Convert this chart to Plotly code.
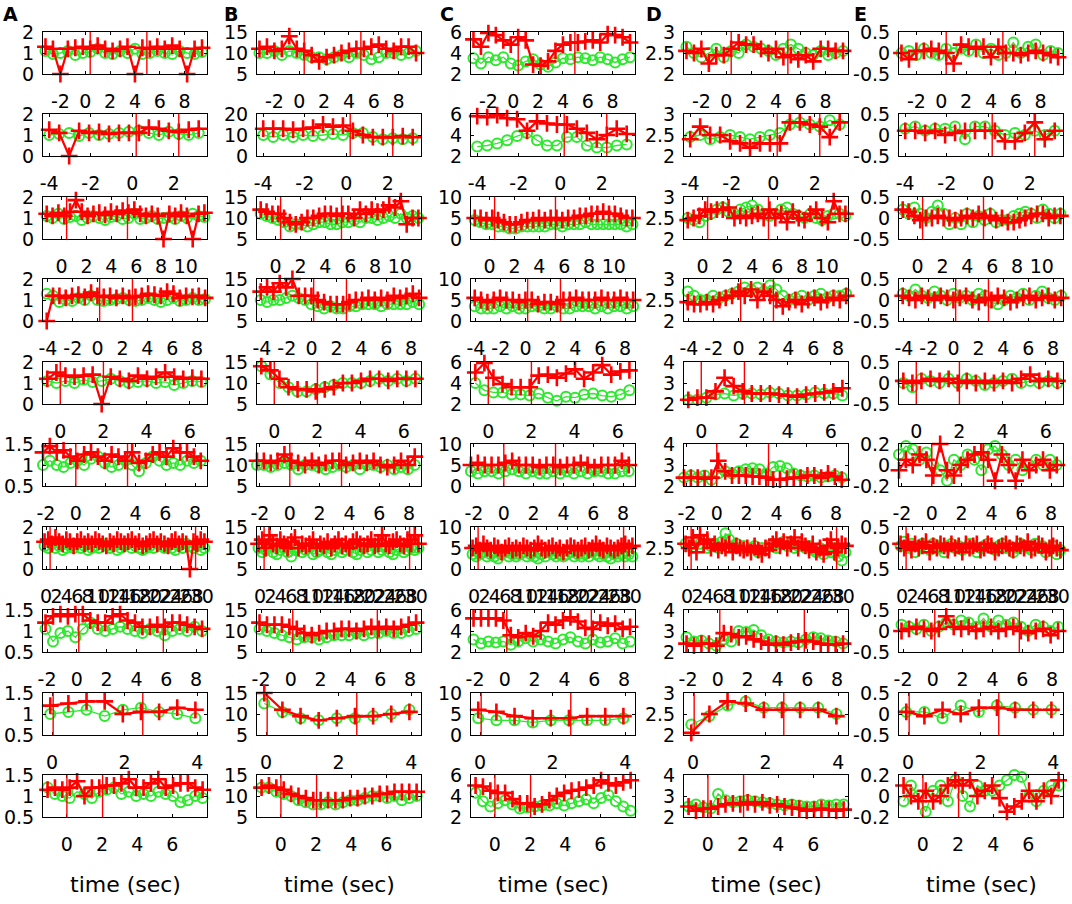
import plotly.graph_objects as go

W, H = 1072, 904
columns = ["A", "B", "C", "D", "E"]

# ---- per-row time sampling / axes (rows 1..10) ----
row_t0 = [-3.2, -4.0, -1.2, -4.1, -0.6, -2.2, -0.3, -2.1, -0.05, -1.1]
row_dt = [0.6, 0.48, 0.47, 0.51, 0.42, 0.46, 0.7, 0.5, 0.5, 0.42]
row_xrange = [[-3.4, 9.8], [-4.3, 3.6], [-1.5, 11.7], [-4.4, 8.8], [-0.8, 6.8],
              [-2.2, 8.8], [-0.6, 31.0], [-2.27, 8.73], [-0.25, 4.27], [-1.36, 7.97]]
row_xticks = [[-2, 0, 2, 4, 6, 8], [-4, -2, 0, 2], [0, 2, 4, 6, 8, 10],
              [-4, -2, 0, 2, 4, 6, 8], [0, 2, 4, 6], [-2, 0, 2, 4, 6, 8],
              list(range(0, 31, 2)), [-2, 0, 2, 4, 6, 8], [0, 2, 4], [0, 2, 4, 6]]
row_events = [[0.4, 4.96], [0.19, 2.24], [0.4, 5.3], [0.16, 2.8], [0.0, 2.0],
              [0.0, 3.47], [0.77, 28.8], [0.13, 5.8], [0.03, 2.5], [0.0, 2.03]]

# ---- y ranges per column (rows 1..10) ----
yr_A = [[0, 2]] * 5 + [[0.5, 1.5], [0, 2], [0.5, 1.5], [0.5, 1.5], [0.5, 1.5]]
yr_B = [[5, 15], [0, 20]] + [[5, 15]] * 8
yr_C = [[2, 6], [2, 6], [0, 10], [0, 10], [2, 6], [0, 10], [0, 10], [2, 6], [0, 10], [2, 6]]
yr_D = [[2, 3]] * 4 + [[2, 4], [2, 4], [2, 3], [2, 4], [2, 3], [2, 4]]
yr_E = [[-0.5, 0.5]] * 5 + [[-0.2, 0.2]] + [[-0.5, 0.5]] * 3 + [[-0.2, 0.2]]

# ---- series values (red "+" and green "o") ----
red_A = [
    [1.3, 1.2, 0, 1.2, 1.25, 1.3, 1.2, 1.35, 1.2, 1.1, 1.2, 1.3, 0, 1.25, 1.2, 1.3, 1.2, 1.35, 1.2, 0, 1.2, 1.25],
    [1.25, 1.1, 0, 1.2, 1.1, 1.15, 1.05, 1.1, 1.1, 1.1, 1.35, 1.3, 1.2, 1.15, 1.25, 1.3],
    [1.2, 1.1, 1.25, 1.1, 1.3, 1.85, 1.3, 1.1, 1.2, 1.25, 1.15, 1.3, 1.2, 1.35, 1.25, 1.4, 1.2, 1.1, 1.2, 1.1, 0, 1.2, 1.1, 1.25, 1.1, 0, 1.2, 1.25],
    [0, 1.2, 1.2, 1.1, 1.2, 1.25, 1.15, 1.35, 1.2, 1.15, 1.2, 1.1, 1.2, 1.1, 1.15, 1.2, 1.3, 1.25, 1.2, 1.4, 1.3, 1.1, 1.2, 1.15, 1.2, 1.1],
    [1.2, 1.5, 1.35, 1.3, 1.35, 1.4, 0, 1.3, 1.2, 1.1, 1.35, 1.2, 1.3, 1.5, 1.3, 1.2, 1.25, 1.2],
    [1.3, 1.45, 1.3, 1.35, 1.2, 1.1, 1.25, 1.3, 1.2, 1.1, 1.25, 1.2, 1.1, 1.3, 1.05, 1.1, 1.25, 1.3, 1.2, 1.4, 1.3, 1.3, 1.2, 1.1],
    [1.3, 1.4, 1.2, 1.5, 1.3, 1.2, 1.4, 1.3, 1.1, 1.3, 1.4, 1.2, 1.3, 1.2, 1.4, 1.3, 1.2, 1.1, 1.3, 1.2, 1.4, 1.3, 1.2, 1.3, 1.4, 1.2, 1.3, 1.1, 1.2, 1.3, 1.4, 1.2, 1.3, 1.2, 1.1, 1.3, 1.4, 1.2, 1.3, 1.2, 0.0, 1.3, 1.2, 1.4, 1.3],
    [1.2, 1.35, 1.4, 1.35, 1.4, 1.4, 1.25, 1.2, 1.2, 1.35, 1.4, 1.25, 1.2, 1.1, 1.1, 1.15, 1.1, 1.2, 1.2, 1.15, 1.1, 1.05],
    [1.2, 1.25, 1.3, 1.3, 1.0, 1.05, 1.05, 1.15, 1.1],
    [1.15, 1.2, 1.15, 1.2, 1.35, 1.0, 1.2, 1.2, 1.25, 1.25, 1.3, 1.4, 1.2, 1.2, 1.3, 1.4, 1.2, 1.25, 1.3, 1.3, 1.2, 1.15],
]
green_A = [
    [1.1, 0.95, 1.0, 1.1, 0.9, 1.0, 1.05, 1.2, 1.0, 0.95, 1.1, 1.0, 1.2, 0.95, 1.0, 1.1, 1.0, 0.95, 1.1, 1.0, 0.95, 1.05],
    [1.0, 1.05, 1.1, 0.95, 1.1, 1.0, 1.05, 1.1, 1.15, 1.2, 1.1, 1.0, 1.15, 1.05, 1.0, 1.1],
    [1.1, 1.0, 1.2, 0.95, 1.05, 1.1, 0.9, 1.0, 1.1, 1.0, 0.9, 1.05, 1.1, 0.95, 1.0, 1.2, 0.95, 1.0, 1.1, 0.95, 1.0, 1.05, 0.95, 1.1, 1.0, 1.2, 1.1, 1.05],
    [1.3, 1.2, 0.9, 1.0, 0.95, 1.1, 1.0, 1.2, 1.0, 0.95, 1.0, 1.05, 1.1, 1.0, 0.95, 1.0, 1.1, 1.0, 0.9, 1.0, 1.1, 0.95, 1.0, 1.1, 1.0, 1.05],
    [1.1, 1.0, 1.1, 1.0, 1.15, 1.05, 1.1, 1.2, 1.1, 1.0, 1.05, 1.1, 1.0, 1.05, 0.9, 1.0, 1.1, 1.05],
    [1.0, 1.1, 1.0, 0.95, 1.05, 1.1, 1.0, 1.15, 1.2, 1.05, 0.95, 1.0, 1.1, 1.0, 0.85, 1.05, 1.2, 1.1, 1.0, 1.05, 1.0, 1.1, 1.05, 1.1],
    [1.1, 1.0, 1.2, 1.0, 1.1, 0.9, 1.0, 1.1, 1.0, 1.2, 1.0, 1.1, 0.9, 1.0, 1.1, 1.0, 1.2, 1.1, 1.0, 1.1, 0.9, 1.0, 1.1, 1.2, 1.0, 1.1, 1.0, 0.9, 1.0, 1.1, 1.0, 1.2, 1.1, 1.0, 1.1, 1.0, 0.9, 1.1, 1.0, 1.2, 1.1, 1.0, 1.1, 0.9, 1.0],
    [1.05, 0.75, 0.95, 1.0, 0.85, 1.05, 1.2, 1.05, 1.0, 1.05, 1.1, 1.05, 1.0, 0.95, 1.05, 1.0, 0.9, 1.0, 1.05, 1.0, 1.1, 1.0],
    [1.0, 1.05, 1.1, 0.95, 1.1, 1.15, 1.05, 1.0, 0.9],
    [1.2, 1.05, 1.0, 0.95, 1.1, 1.05, 0.95, 1.1, 1.15, 1.2, 1.05, 1.1, 1.0, 1.05, 1.0, 1.1, 1.05, 1.0, 0.85, 0.9, 1.0, 0.95],
]
red_B = [
    [11, 11.5, 10.5, 11, 14, 11, 10.5, 9.5, 8, 9, 9.5, 10, 10.5, 11, 11, 11.5, 12, 11, 10.5, 11.5, 11.5, 10],
    [13, 13, 13, 12.5, 13, 13.5, 15, 14, 14.5, 12, 10, 9, 9, 9, 9.5, 9],
    [12, 11.5, 11, 11, 10, 9, 8.5, 9, 10, 10, 10.5, 11, 11, 10.5, 11, 11, 10, 12, 11, 12, 11.5, 12, 13, 12.5, 14, 8.5, 10, 10],
    [12, 13, 12, 14, 13, 15, 11, 11, 11, 10, 9.5, 9, 9, 9, 9.5, 10, 10, 10.5, 10, 10.5, 10, 11, 10.5, 11, 11.5, 10.5],
    [14, 13, 11, 9, 8.5, 8.5, 8, 8.5, 9, 10, 10, 10.5, 11, 11, 10.5, 11, 11, 11],
    [11, 11, 10.5, 11, 12.5, 11, 10.5, 10, 11, 10, 10.5, 11, 11, 10, 10.5, 11, 10.5, 11, 10, 9.5, 10, 11, 10, 12],
    [11, 12, 10, 13, 11, 10.5, 12, 11, 10, 11.5, 12.5, 10, 11, 10.5, 11, 12, 10, 11, 10.5, 11.5, 10, 11, 12, 10.5, 11, 10, 11.5, 12, 11, 10.5, 11, 12, 10.5, 11, 13, 11, 10.5, 11.5, 12, 11, 10.5, 12, 11, 13, 11],
    [12, 11.5, 11.5, 11.5, 11, 10.5, 9.5, 9, 9.5, 10, 10, 10.5, 10.5, 10, 10.5, 11, 10.5, 11, 10.5, 11, 11.5, 12],
    [15, 11, 9.5, 8.5, 9, 9.5, 9.5, 10, 10.5],
    [12, 12.5, 12, 11.5, 10.5, 10, 9.5, 9, 9, 9, 9, 9, 9.5, 9.5, 10, 10, 10.5, 10.5, 11, 11, 11, 11],
]
green_B = [
    [10, 10, 10.5, 9.5, 10.5, 10, 9.5, 9, 9, 8.5, 9, 9.5, 9, 10, 9.5, 8.5, 9, 10, 10, 9.5, 10, 10.5],
    [10, 9, 10, 9, 10, 9.5, 10, 10.5, 10, 11, 11, 9, 8, 8.5, 8, 8.5],
    [11, 10.5, 10, 9.5, 9, 8, 8.5, 8.5, 8, 8.5, 9, 9, 8.5, 8.5, 9, 9, 9.5, 9, 10, 10, 9.5, 10, 10.5, 10, 11, 10, 10.5, 10],
    [10, 9.5, 10, 10, 10.5, 11, 10.5, 10, 9, 8.5, 8, 8.5, 8, 8, 8.5, 8.5, 9, 9, 9, 8.5, 9, 9, 9, 9, 9.5, 9],
    [14, 12, 10, 9, 8, 8, 8.5, 9, 9.5, 10, 10, 10, 10.5, 11, 10.5, 11, 10.5, 11],
    [10, 10, 9.5, 10, 10.5, 10, 9, 10, 10, 9.5, 9, 9.5, 10, 9.5, 10, 9, 10, 10, 9.5, 10, 9, 9.5, 9, 10],
    [10, 9, 9.5, 10.5, 9, 8.5, 9.5, 10, 9, 8, 9.5, 10, 9, 9.5, 10, 8.5, 9, 9.5, 10, 9, 8.5, 9.5, 10, 9, 9.5, 10, 9, 8.5, 9.5, 10, 9, 9.5, 10.5, 9, 9.5, 10, 9, 8.5, 9.5, 10, 9, 9.5, 10, 9.5, 10],
    [10.5, 10, 9.5, 9, 8.5, 8, 8.5, 8.5, 8, 8.5, 9, 9, 9, 9.5, 9, 9.5, 9.5, 10, 9.5, 9.5, 10, 10.5],
    [12.5, 10.5, 9, 8.5, 9, 9, 9.5, 10, 11],
    [12, 12, 11, 10.5, 10, 9, 8.5, 8, 8, 8.5, 8, 8.5, 9, 9, 9.5, 10, 10, 9.5, 10, 9, 9.5, 10],
]
red_C = [
    [5.3, 4.6, 5.9, 5.7, 5.2, 4.8, 5.5, 5.2, 2.9, 2.8, 3.2, 4.2, 4.8, 5.0, 5.0, 5.1, 5.2, 5.0, 5.8, 5.7, 5.5, 5.0],
    [5.8, 5.7, 5.9, 5.6, 5.5, 4.4, 5.3, 5.1, 5.0, 5.0, 4.6, 4.2, 3.6, 4.0, 4.6, 4.1],
    [5, 5, 4.5, 5, 4.5, 4, 3.5, 3.5, 4, 4.5, 4.5, 5, 4.5, 5, 5, 4.5, 5, 5, 5.5, 5.5, 6, 6, 6.5, 6, 6, 5.5, 5, 5],
    [5.5, 5, 4.5, 5, 5.5, 5, 5, 4.5, 5, 5, 4, 4.5, 4.5, 4, 5, 5, 5.5, 5, 5, 5, 5.5, 5, 5, 5.5, 5, 5],
    [5.0, 5.9, 4.5, 3.9, 3.6, 3.6, 3.6, 4.7, 4.8, 4.5, 4.9, 5.3, 4.4, 5.0, 5.7, 4.8, 5.1, 5.2],
    [5, 5.5, 5, 5, 5, 5.5, 6, 5, 5, 5, 4.5, 5, 5, 4.5, 5, 5, 5.5, 5, 4.5, 5, 5, 5, 6, 5],
    [5, 5.5, 4.5, 6, 5, 4.5, 5.5, 5, 4, 5, 5.5, 4.5, 5, 4.5, 5.5, 5, 4.5, 5, 6, 5, 4.5, 5, 5.5, 4.5, 5, 4, 5, 5.5, 5, 4.5, 5, 5.5, 4.5, 5, 6, 5, 4.5, 5.5, 5, 4.5, 5, 5.5, 6, 5, 5.5],
    [5.2, 5.2, 5.2, 5.2, 5.0, 3.6, 3.4, 3.8, 3.5, 4.0, 4.8, 4.6, 5.0, 5.3, 4.9, 4.3, 4.2, 4.8, 4.5, 4.7, 4.2, 4.4],
    [6, 5.5, 4.5, 4, 4, 4, 4.5, 4.5, 4.5],
    [5.0, 4.9, 4.5, 4.3, 4.3, 3.7, 3.3, 3.3, 3.0, 3.2, 3.6, 4.0, 4.3, 4.5, 4.6, 4.8, 5.0, 5.5, 5.2, 5.0, 5.3, 5.5],
]
green_C = [
    [3.5, 3.0, 3.6, 3.3, 3.6, 3.0, 2.8, 3.2, 3.4, 2.9, 2.7, 3.1, 3.5, 3.4, 3.6, 3.5, 3.3, 3.6, 3.4, 3.1, 3.4, 3.6],
    [2.9, 3.0, 3.2, 3.5, 3.9, 4.2, 3.5, 3.0, 3.0, 3.8, 3.8, 3.0, 2.8, 2.8, 3.0, 3.1],
    [4.5, 4, 3.5, 3.5, 3, 3, 2.5, 2.5, 3, 3, 3, 3, 3, 3.5, 3.5, 3, 3.5, 3.5, 3.5, 4, 3.5, 3.5, 3.5, 3.5, 3.5, 3.5, 3, 3.5],
    [3.5, 3, 3, 3, 3.5, 3, 3.5, 3, 3, 3.5, 3.5, 3, 3, 3.5, 3, 3, 3.5, 3.5, 3.5, 3, 3.5, 3, 3.5, 3.5, 3, 3.5],
    [4.0, 3.3, 3.1, 3.1, 2.9, 2.9, 2.8, 3.0, 2.6, 2.3, 2.7, 2.6, 2.9, 3.0, 2.8, 2.7, 2.9, 3.3],
    [3.5, 3, 3.5, 3.5, 3, 3.5, 4, 3.5, 3, 3.5, 3, 3, 3.5, 3, 3.5, 3, 3.5, 3, 3.5, 3.5, 3, 3, 3.5, 3.5],
    [3.5, 3, 3.5, 4, 3, 3.5, 3, 2.5, 3.5, 4, 3, 3.5, 3, 3.5, 4, 3, 3.5, 3, 2.5, 3.5, 3, 4, 3.5, 3, 3.5, 3, 3.5, 4, 3, 3.5, 3, 3.5, 3, 4, 3.5, 3, 3.5, 3, 2.5, 3.5, 3, 3.5, 3, 3.5, 3],
    [3.2, 2.8, 3.0, 2.9, 3.0, 2.7, 3.0, 3.3, 3.0, 3.2, 3.0, 2.8, 3.2, 3.4, 3.0, 2.8, 3.2, 2.9, 3.0, 3.3, 2.8, 3.0],
    [4, 3.5, 3.5, 3, 3.5, 3.5, 3.5, 3.5, 4],
    [4.3, 3.5, 3.0, 3.3, 3.6, 3.2, 2.8, 2.9, 3.0, 3.1, 3.1, 3.3, 3.1, 3.3, 3.5, 3.7, 3.3, 3.8, 4.1, 3.5, 3.0, 2.6],
]
red_D = [
    [2.55, 2.5, 2.6, 2.25, 2.45, 2.45, 2.6, 2.75, 2.7, 2.7, 2.6, 2.5, 2.6, 2.4, 2.45, 2.35, 2.45, 2.3, 2.6, 2.6, 2.55, 2.55],
    [2.4, 2.7, 2.5, 2.5, 2.35, 2.3, 2.2, 2.3, 2.3, 2.3, 2.8, 2.8, 2.75, 2.7, 2.45, 2.8],
    [2.45, 2.5, 2.55, 2.7, 2.65, 2.7, 2.7, 2.75, 2.5, 2.55, 2.5, 2.55, 2.6, 2.5, 2.7, 2.5, 2.6, 2.4, 2.65, 2.5, 2.45, 2.6, 2.7, 2.5, 2.4, 2.9, 2.6, 2.6],
    [2.45, 2.4, 2.4, 2.45, 2.4, 2.5, 2.55, 2.6, 2.7, 2.6, 2.75, 2.5, 2.7, 2.6, 2.5, 2.35, 2.45, 2.5, 2.4, 2.5, 2.55, 2.45, 2.5, 2.55, 2.5, 2.6],
    [2.2, 2.3, 2.3, 2.6, 3.25, 2.85, 2.6, 2.5, 2.5, 2.5, 2.45, 2.4, 2.35, 2.45, 2.5, 2.55, 2.6, 2.75],
    [2.4, 2.4, 2.4, 2.35, 2.4, 3.2, 2.7, 2.5, 2.5, 2.5, 2.45, 2.45, 2.4, 2.3, 2.3, 2.35, 2.4, 2.4, 2.5, 2.5, 2.4, 2.6, 2.45, 2.3],
    [2.6, 2.5, 2.75, 2.4, 2.8, 2.6, 2.7, 2.5, 2.6, 2.45, 2.55, 2.5, 2.6, 2.4, 2.55, 2.5, 2.45, 2.5, 2.4, 2.55, 2.45, 2.35, 2.5, 2.45, 2.6, 2.7, 2.55, 2.65, 2.5, 2.6, 2.75, 2.5, 2.65, 2.55, 2.45, 2.6, 2.4, 2.5, 2.35, 2.55, 2.7, 2.4, 2.5, 2.6, 2.55],
    [2.4, 2.3, 2.4, 2.4, 2.3, 2.9, 2.85, 2.7, 2.75, 2.6, 2.5, 2.35, 2.4, 2.35, 2.45, 2.5, 2.55, 2.5, 2.4, 2.35, 2.35, 2.4],
    [2.05, 2.5, 2.8, 2.75, 2.6, 2.6, 2.6, 2.6, 2.45],
    [2.5, 2.3, 2.4, 2.4, 2.5, 2.6, 2.65, 2.6, 2.7, 2.6, 2.7, 2.55, 2.6, 2.5, 2.45, 2.4, 2.3, 2.35, 2.4, 2.35, 2.3, 2.35],
]
green_D = [
    [2.65, 2.5, 2.4, 2.5, 2.6, 2.4, 2.55, 2.5, 2.7, 2.65, 2.6, 2.55, 2.45, 2.6, 2.7, 2.6, 2.5, 2.45, 2.55, 2.45, 2.5, 2.55],
    [2.45, 2.5, 2.4, 2.45, 2.5, 2.45, 2.4, 2.45, 2.5, 2.55, 2.75, 2.8, 2.75, 2.7, 2.85, 2.75],
    [2.5, 2.45, 2.4, 2.55, 2.6, 2.7, 2.75, 2.65, 2.6, 2.7, 2.75, 2.8, 2.7, 2.6, 2.55, 2.6, 2.7, 2.75, 2.6, 2.55, 2.5, 2.6, 2.5, 2.45, 2.55, 2.6, 2.6, 2.55],
    [2.7, 2.6, 2.5, 2.5, 2.6, 2.55, 2.6, 2.65, 2.7, 2.8, 2.75, 2.8, 2.7, 2.85, 2.75, 2.6, 2.5, 2.55, 2.6, 2.5, 2.6, 2.65, 2.55, 2.6, 2.6, 2.65],
    [2.2, 2.2, 2.3, 2.45, 2.5, 2.4, 2.5, 2.5, 2.45, 2.55, 2.5, 2.4, 2.4, 2.45, 2.55, 2.5, 2.5, 2.4],
    [2.4, 2.5, 2.4, 2.5, 2.3, 2.6, 2.7, 2.6, 2.7, 2.8, 2.85, 2.8, 2.6, 2.9, 2.95, 2.85, 2.6, 2.5, 2.45, 2.5, 2.4, 2.45, 2.5, 2.4],
    [2.6, 2.55, 2.5, 2.65, 2.6, 2.7, 2.5, 2.55, 2.6, 2.5, 2.65, 2.85, 2.7, 2.55, 2.6, 2.5, 2.55, 2.45, 2.5, 2.55, 2.4, 2.5, 2.45, 2.55, 2.6, 2.5, 2.6, 2.65, 2.55, 2.6, 2.5, 2.55, 2.6, 2.5, 2.55, 2.45, 2.4, 2.5, 2.35, 2.45, 2.4, 2.5, 2.3, 2.2, 2.4],
    [2.7, 2.5, 2.55, 2.4, 2.3, 2.6, 2.5, 3.0, 2.95, 3.05, 2.8, 2.6, 2.5, 2.45, 2.5, 2.45, 2.6, 2.7, 2.65, 2.55, 2.5, 2.4],
    [2.25, 2.45, 2.7, 2.8, 2.65, 2.65, 2.65, 2.65, 2.5],
    [2.5, 2.6, 2.45, 2.4, 3.1, 2.8, 2.7, 2.75, 2.8, 2.75, 2.7, 2.65, 2.6, 2.55, 2.6, 2.55, 2.5, 2.5, 2.6, 2.55, 2.6, 2.6],
]
red_E = [
    [0, -0.15, 0.05, 0.05, 0.1, 0.05, 0.0, -0.25, 0.2, 0.15, 0.1, 0.15, -0.1, 0.15, 0.0, 0.0, -0.05, 0.0, 0.05, 0.0, -0.05, -0.1],
    [0.1, 0.1, 0.05, 0.1, 0.0, 0.05, 0.1, 0.1, 0.1, 0.1, -0.15, -0.15, 0.05, 0.3, -0.1, 0.1],
    [0.2, 0.15, 0.05, -0.05, 0.0, 0.0, 0.05, 0.0, 0.0, -0.05, 0.0, 0.05, 0.0, 0.1, 0.0, 0.05, -0.05, 0.0, -0.1, -0.1, -0.05, 0.0, 0.05, 0.1, 0.1, 0.0, 0.05, 0.05],
    [0.1, 0.05, 0.0, 0.1, 0.05, 0.0, 0.1, 0.05, 0.0, 0.05, 0.1, 0.0, -0.05, 0.05, 0.0, 0.1, 0.05, -0.05, 0.0, 0.05, 0.1, 0.0, 0.05, 0.1, 0.0, 0.05],
    [0.05, 0.0, 0.05, 0.1, 0.05, 0.1, 0.0, 0.05, 0.0, 0.05, 0.0, 0.05, 0.0, 0.1, 0.2, 0.05, 0.1, 0.05],
    [-0.05, 0.05, 0.0, 0.1, 0.05, -0.1, 0.2, -0.05, -0.1, 0.0, 0.05, 0.1, 0.12, 0.05, -0.15, 0.1, 0.0, -0.15, 0.05, -0.05, 0.0, 0.05, -0.05, 0.0],
    [0.1, 0.0, 0.15, -0.05, 0.1, 0.0, 0.05, 0.15, -0.1, 0.05, 0.0, 0.1, 0.05, -0.05, 0.1, 0.0, 0.05, -0.1, 0.1, 0.0, 0.05, 0.1, -0.05, 0.0, 0.1, 0.05, -0.1, 0.0, 0.05, 0.1, 0.0, -0.05, 0.1, 0.05, 0.0, 0.15, -0.05, 0.0, 0.1, 0.05, -0.1, 0.0, 0.05, 0.0, -0.05],
    [0.0, 0.05, 0.1, 0.05, 0.0, 0.05, 0.35, 0.1, 0.05, 0.1, 0.0, 0.05, 0.1, 0.0, 0.05, 0.1, 0.0, -0.05, 0.0, 0.05, -0.1, 0.0],
    [0.05, -0.05, 0.1, 0.0, 0.15, 0.15, 0.1, 0.1, 0.1],
    [0.1, 0.0, -0.05, 0.05, -0.05, 0.0, 0.1, 0.15, 0.1, 0.15, 0.0, 0.05, 0.1, -0.02, -0.15, -0.1, -0.05, 0.05, -0.05, 0.05, 0.0, 0.15],
]
green_E = [
    [0, 0.05, -0.05, 0.1, 0.0, -0.05, 0.1, 0.0, 0.1, 0.05, 0.2, 0.0, 0.1, -0.05, 0.0, 0.25, 0.0, 0.15, 0.2, -0.05, 0.05, 0.0],
    [0.15, 0.2, 0.1, 0.15, 0.15, 0.2, -0.1, 0.2, 0.2, 0.1, 0.0, 0.05, 0.0, 0.1, 0.0, 0.1],
    [0.2, 0.1, 0.25, 0.1, 0.0, 0.15, 0.3, 0.1, -0.15, 0.0, -0.15, 0.1, -0.1, 0.05, -0.05, 0.1, -0.1, -0.05, -0.05, 0.05, 0.1, 0.15, 0.1, 0.0, 0.2, 0.1, 0.0, 0.1],
    [0.15, 0.1, 0.25, 0.1, 0.05, 0.2, 0.1, 0.0, 0.15, 0.05, 0.1, 0.0, 0.15, 0.1, -0.05, -0.1, 0.0, 0.1, 0.05, 0.15, 0.0, 0.1, 0.2, 0.05, 0.0, 0.1],
    [0.0, -0.1, 0.1, 0.05, 0.0, 0.1, 0.0, 0.1, 0.05, -0.05, 0.0, 0.05, 0.1, 0.0, 0.05, 0.0, 0.05, 0.0],
    [0.1, 0.18, 0.15, 0.05, 0.12, 0.0, -0.05, -0.15, 0.05, 0.0, 0.1, 0.05, -0.05, 0.15, 0.18, 0.1, 0.0, 0.05, -0.05, 0.0, 0.05, 0.0, 0.05, 0.0],
    [0.05, 0.15, 0.0, 0.1, -0.1, 0.05, 0.1, 0.0, -0.05, 0.1, 0.05, 0.0, -0.1, 0.05, 0.1, 0.0, 0.05, -0.05, 0.0, 0.1, 0.05, -0.1, 0.0, 0.05, 0.1, 0.0, -0.05, 0.05, 0.1, 0.0, 0.05, -0.1, 0.0, 0.1, 0.05, 0.0, -0.05, 0.1, 0.0, 0.05, -0.1, 0.0, 0.05, -0.15, -0.05],
    [0.15, 0.1, 0.05, 0.15, 0.0, 0.1, 0.2, 0.15, 0.25, 0.2, 0.1, 0.3, 0.1, 0.25, 0.15, 0.2, 0.1, 0.0, 0.15, 0.1, 0.0, 0.1],
    [0.05, 0.05, -0.1, 0.2, 0.05, 0.2, 0.15, 0.1, 0.1],
    [-0.05, 0.1, 0.0, -0.15, 0.05, 0.1, -0.05, 0.15, 0.0, -0.1, 0.1, 0.05, 0.05, 0.1, 0.15, 0.2, 0.18, 0.0, -0.05, 0.05, 0.1, 0.1],
]

red_all = {"A": red_A, "B": red_B, "C": red_C, "D": red_D, "E": red_E}
green_all = {"A": green_A, "B": green_B, "C": green_C, "D": green_D, "E": green_E}
yr_all = {"A": yr_A, "B": yr_B, "C": yr_C, "D": yr_D, "E": yr_E}

# ---- layout geometry (page pixels) ----
col_left = [43, 257, 471, 684, 899]
box_w = 164
row_top = [32, 114, 197, 279, 362, 444, 527, 610, 693, 775]
box_h = 42
letter_x = [10, 231, 447, 654, 861]

RED = "#ff0000"
GREEN = "#2ee82e"
FONT = "DejaVu Sans, Arial, sans-serif"


def fmt(v):
    return ("%g" % v)


def px(xp):
    return xp / W


def py(yp):
    return 1 - yp / H


fig = go.Figure()
shapes = []
layout_axes = {}

for c, col in enumerate(columns):
    for r in range(10):
        n = r * 5 + c + 1
        xa = "x" if n == 1 else f"x{n}"
        ya = "y" if n == 1 else f"y{n}"
        t0, dt = row_t0[r], row_dt[r]
        g = green_all[col][r]
        rd = red_all[col][r]
        xg = [t0 + dt * i for i in range(len(g))]
        xr = [t0 + dt * i for i in range(len(rd))]
        fig.add_trace(go.Scatter(
            x=xg, y=g, xaxis=xa, yaxis=ya, mode="lines+markers", showlegend=False,
            line=dict(color=GREEN, width=1.3),
            marker=dict(symbol="circle-open", size=10, color=GREEN, line=dict(width=2, color=GREEN)),
            cliponaxis=False))
        fig.add_trace(go.Scatter(
            x=xr, y=rd, xaxis=xa, yaxis=ya, mode="lines+markers", showlegend=False,
            line=dict(color=RED, width=2.2),
            marker=dict(symbol="cross-thin", size=12, color=RED, line=dict(width=2.6, color=RED)),
            cliponaxis=False))
        for ev in row_events[r]:
            shapes.append(dict(type="line", xref=xa, yref=f"{ya} domain", x0=ev, x1=ev, y0=0, y1=1,
                               line=dict(color=RED, width=1.4)))
        lo, hi = yr_all[col][r]
        yt = [lo, (lo + hi) / 2, hi]
        x0p = col_left[c]
        y0p = row_top[r]
        xkey = "xaxis" if n == 1 else f"xaxis{n}"
        ykey = "yaxis" if n == 1 else f"yaxis{n}"
        layout_axes[xkey] = dict(
            domain=[px(x0p), px(x0p + box_w)], anchor=ya, range=row_xrange[r],
            tickmode="array", tickvals=row_xticks[r], ticktext=[fmt(v) for v in row_xticks[r]],
            tickangle=0, ticks="inside", ticklen=3, tickcolor="black", automargin=False,
            showline=True, linecolor="black", linewidth=1, mirror="ticks",
            showgrid=False, zeroline=False, ticklabelstandoff=10,
            tickfont=dict(size=19, color="black", family=FONT))
        layout_axes[ykey] = dict(
            domain=[py(y0p + box_h), py(y0p)], anchor=xa, range=[lo, hi],
            tickmode="array", tickvals=yt, ticktext=[fmt(v) for v in yt],
            ticks="inside", ticklen=3, tickcolor="black", automargin=False,
            showline=True, linecolor="black", linewidth=1, mirror="ticks",
            showgrid=False, zeroline=False, ticklabelstandoff=4,
            tickfont=dict(size=19, color="black", family=FONT))

annotations = []
for c, col in enumerate(columns):
    annotations.append(dict(text=f"<b>{col}</b>", x=px(letter_x[c]), y=py(14), xref="paper", yref="paper",
                            showarrow=False, font=dict(size=19, color="black", family=FONT),
                            xanchor="center", yanchor="middle"))
    annotations.append(dict(text="time (sec)", x=px(col_left[c] + box_w / 2), y=py(884),
                            xref="paper", yref="paper", showarrow=False,
                            font=dict(size=22, color="black", family=FONT),
                            xanchor="center", yanchor="middle"))

fig.update_layout(width=W, height=H, autosize=False, margin=dict(l=0, r=0, t=0, b=0),
                  paper_bgcolor="white", plot_bgcolor="white", shapes=shapes,
                  annotations=annotations, **layout_axes)

# remove the browser's default page margin so the figure sits at the window origin
fig.write_html("out.html", config={"displayModeBar": False},
               post_script="document.body.style.margin='0';document.body.style.overflow='hidden';")
